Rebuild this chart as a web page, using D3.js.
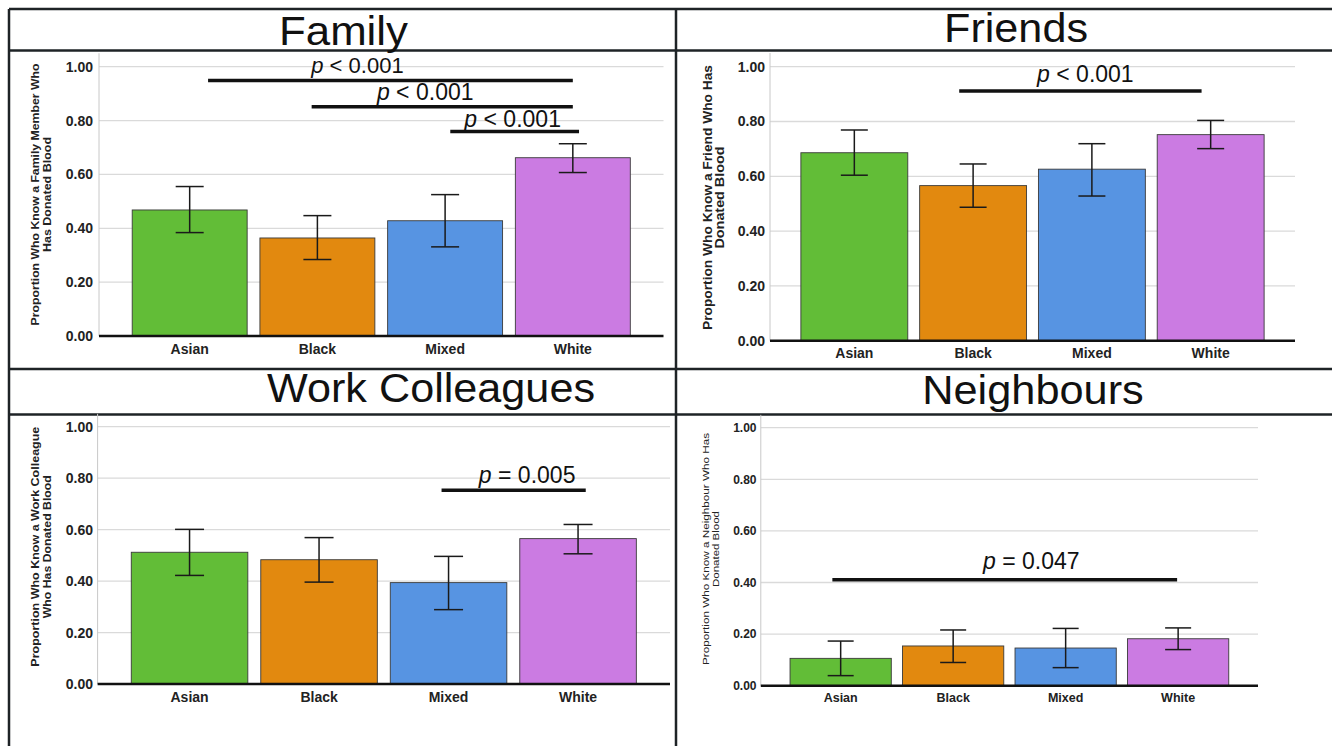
<!DOCTYPE html>
<html>
<head>
<meta charset="utf-8">
<script src="https://cdn.jsdelivr.net/npm/d3@7"></script>
<style>
  body { margin: 0; background: #fff; }
  svg { display: block; font-family: "Liberation Sans", Arial, sans-serif; }
</style>
</head>
<body>
<svg id="chart" width="1332" height="746"></svg>
<script>
// ---- data ----
const categories = ["Asian", "Black", "Mixed", "White"];
const colors = ["#62bd37", "#e2890f", "#5794e2", "#cb7be2"];
const tickValues = [0, 0.2, 0.4, 0.6, 0.8, 1.0];

const familyMean = [0.468, 0.364, 0.428, 0.662];
const familyLow  = [0.384, 0.284, 0.331, 0.607];
const familyHigh = [0.555, 0.447, 0.525, 0.714];

const friendsMean = [0.686, 0.566, 0.626, 0.752];
const friendsLow  = [0.604, 0.487, 0.528, 0.701];
const friendsHigh = [0.769, 0.645, 0.719, 0.804];

const colleaguesMean = [0.512, 0.483, 0.394, 0.565];
const colleaguesLow  = [0.422, 0.396, 0.289, 0.506];
const colleaguesHigh = [0.601, 0.569, 0.496, 0.620];

const neighboursMean = [0.106, 0.154, 0.146, 0.182];
const neighboursLow  = [0.039, 0.090, 0.070, 0.140];
const neighboursHigh = [0.173, 0.216, 0.222, 0.224];

const familyTests = [["Asian", "White", "< 0.001"], ["Black", "White", "< 0.001"], ["Mixed", "White", "< 0.001"]];
const friendsTests = [["Black", "White", "< 0.001"]];
const colleaguesTests = [["Mixed", "White", "= 0.005"]];
const neighboursTests = [["Asian", "White", "= 0.047"]];

// ---- layout ----
const panels = [
  {
    title: "Family", titleX: 343.5, titleY: 45, titleLen: 129,
    mean: familyMean, low: familyLow, high: familyHigh, tests: familyTests,
    xr: [99, 663.5], y0: 336, y1: 66.7, tickX: 93, tickSize: 14, catY: 354, catSize: 14,
    yTitle: ["Proportion Who Know a Family Member Who", "Has Donated Blood"],
    yTitleX: [35, 47], yTitleY: 194.5, yTitleLen: [262, 115], yTitleSize: 10.5, yTitleWeight: "bold",
    // bracket layout: [start frac, end frac, level, label level, label dx]
    brackets: [[0.66, 0.5, 0.949, 0.978, -33], [0.45, 0.5, 0.851, 0.876, -17], [0.545, 0.554, 0.759, 0.776, -2]],
    capW: 28
  },
  {
    title: "Friends", titleX: 1016, titleY: 42.3, titleLen: 144,
    mean: friendsMean, low: friendsLow, high: friendsHigh, tests: friendsTests,
    xr: [770, 1295], y0: 340.7, y1: 66.7, tickX: 765, tickSize: 14, catY: 358, catSize: 14,
    yTitle: ["Proportion Who Know a Friend Who Has", "Donated Blood"],
    yTitleX: [708, 720], yTitleY: 197.5, yTitleLen: [265, 102], yTitleSize: 12, yTitleWeight: "bold",
    brackets: [[0.37, 0.415, 0.911, 0.944, 5]],
    capW: 27
  },
  {
    title: "Work Colleagues", titleX: 431, titleY: 401.7, titleLen: 328,
    mean: colleaguesMean, low: colleaguesLow, high: colleaguesHigh, tests: colleaguesTests,
    xr: [97.6, 670], y0: 684, y1: 426.7, tickX: 93, tickSize: 14, catY: 702, catSize: 14,
    yTitle: ["Proportion Who Know a Work Colleague", "Who Has Donated Blood"],
    yTitleX: [35.6, 47.7], yTitleY: 546.7, yTitleLen: [240, 143], yTitleSize: 10.5, yTitleWeight: "bold",
    brackets: [[0.44, 0.566, 0.753, 0.781, 13.5]],
    capW: 29
  },
  {
    title: "Neighbours", titleX: 1033, titleY: 404.3, titleLen: 221.6,
    mean: neighboursMean, low: neighboursLow, high: neighboursHigh, tests: neighboursTests,
    xr: [760.8, 1258], y0: 685.7, y1: 427.7, tickX: 756.5, tickSize: 12, catY: 701.7, catSize: 12.5,
    yTitle: ["Proportion Who Know a Neighbour Who Has", "Donated Blood"],
    yTitleX: [706, 715.6], yTitleY: 549, yTitleLen: [232, 76], yTitleSize: 9.5, yTitleWeight: "normal",
    brackets: [[0.418, 0.49, 0.411, 0.452, 26.5]],
    capW: 26
  }
];

const svg = d3.select("#chart");

// frame lines of the 2x2 grid
const frame = svg.append("g").attr("stroke", "#1e2326").attr("stroke-width", 2.5);
[[9, 9, 1332, 9], [9, 50.5, 1332, 50.5], [9, 369, 1332, 369], [9, 414.5, 1332, 414.5],
 [9, 9, 9, 746], [676, 9, 676, 746]].forEach(l => {
  frame.append("line").attr("x1", l[0]).attr("y1", l[1]).attr("x2", l[2]).attr("y2", l[3]);
});

panels.forEach(drawPanel);

function drawPanel(p) {
  const g = svg.append("g");

  const x = d3.scaleBand()
    .domain(categories)
    .range(p.xr)
    .paddingInner(0.1)
    .paddingOuter(0.26);

  const y = d3.scaleLinear()
    .domain([0, 1])
    .range([p.y0, p.y1]);

  // title
  g.append("text")
    .attr("x", p.titleX)
    .attr("y", p.titleY)
    .attr("text-anchor", "middle")
    .attr("font-size", 40)
    .attr("textLength", p.titleLen)
    .attr("lengthAdjust", "spacingAndGlyphs")
    .attr("fill", "#111")
    .text(p.title);

  // gridlines
  g.append("g")
    .selectAll("line")
    .data(tickValues.filter(d => d > 0))
    .join("line")
    .attr("x1", p.xr[0]).attr("x2", p.xr[1])
    .attr("y1", d => y(d)).attr("y2", d => y(d))
    .attr("stroke", "#dadada").attr("stroke-width", 1.3);

  // light left axis line
  g.append("line")
    .attr("x1", p.xr[0]).attr("x2", p.xr[0])
    .attr("y1", y(1.05)).attr("y2", y(0))
    .attr("stroke", "#c8c8c8").attr("stroke-width", 1);

  // y tick labels
  const yAxis = g.append("g")
    .attr("transform", `translate(${p.tickX + 3},0)`)
    .call(d3.axisLeft(y).tickValues(tickValues).tickFormat(d3.format(".2f")).tickSize(0).tickPadding(3));
  yAxis.select(".domain").remove();
  yAxis.selectAll("text")
    .attr("font-family", "'Liberation Sans', Arial, sans-serif")
    .attr("font-size", p.tickSize)
    .attr("font-weight", "bold")
    .attr("fill", "#222");

  // x category labels
  const xAxis = g.append("g")
    .attr("transform", `translate(0,${p.catY - p.catSize * 0.72})`)
    .call(d3.axisBottom(x).tickSize(0).tickPadding(0));
  xAxis.select(".domain").remove();
  xAxis.selectAll("text")
    .attr("dy", "0.72em")
    .attr("font-family", "'Liberation Sans', Arial, sans-serif")
    .attr("font-size", p.catSize)
    .attr("font-weight", "bold")
    .attr("fill", "#222");

  // y axis title (two lines, rotated)
  p.yTitle.forEach((line, i) => {
    g.append("text")
      .attr("transform", `translate(${p.yTitleX[i]},${p.yTitleY}) rotate(-90)`)
      .attr("dy", "0.35em")
      .attr("text-anchor", "middle")
      .attr("font-size", p.yTitleSize)
      .attr("font-weight", p.yTitleWeight)
      .attr("textLength", p.yTitleLen[i])
      .attr("lengthAdjust", "spacingAndGlyphs")
      .attr("fill", "#222")
      .text(line);
  });

  const rows = categories.map((c, i) => ({ cat: c, mean: p.mean[i], low: p.low[i], high: p.high[i], color: colors[i] }));

  // bars
  g.append("g")
    .selectAll("rect")
    .data(rows)
    .join("rect")
    .attr("x", d => x(d.cat))
    .attr("y", d => y(d.mean))
    .attr("width", x.bandwidth())
    .attr("height", d => y(0) - y(d.mean))
    .attr("fill", d => d.color)
    .attr("stroke", "#3a3a3a")
    .attr("stroke-width", 0.9);

  // error bars
  const eb = g.append("g").attr("stroke", "#1a1a1a").attr("stroke-width", 1.5);
  rows.forEach(d => {
    const cx = x(d.cat) + x.bandwidth() / 2;
    eb.append("line").attr("x1", cx).attr("x2", cx).attr("y1", y(d.low)).attr("y2", y(d.high));
    eb.append("line").attr("x1", cx - p.capW / 2).attr("x2", cx + p.capW / 2).attr("y1", y(d.low)).attr("y2", y(d.low));
    eb.append("line").attr("x1", cx - p.capW / 2).attr("x2", cx + p.capW / 2).attr("y1", y(d.high)).attr("y2", y(d.high));
  });

  // zero axis line
  g.append("line")
    .attr("x1", p.xr[0]).attr("x2", p.xr[1])
    .attr("y1", y(0)).attr("y2", y(0))
    .attr("stroke", "#111").attr("stroke-width", 2.5);

  // significance brackets
  p.tests.forEach((t, i) => {
    const b = p.brackets[i];
    const xa = x(t[0]) + x.bandwidth() * b[0];
    const xb = x(t[1]) + x.bandwidth() * b[1];
    g.append("line")
      .attr("x1", xa).attr("x2", xb)
      .attr("y1", y(b[2])).attr("y2", y(b[2]))
      .attr("stroke", "#111").attr("stroke-width", 3.5);
    const label = g.append("text")
      .attr("x", (xa + xb) / 2 + b[4])
      .attr("y", y(b[3]))
      .attr("text-anchor", "middle")
      .attr("font-size", i === 0 && p.tests.length > 1 ? 22 : 23)
      .attr("fill", "#111");
    label.append("tspan").attr("font-style", "italic").text("p");
    label.append("tspan").text(" " + t[2]);
  });
}
</script>
</body>
</html>
